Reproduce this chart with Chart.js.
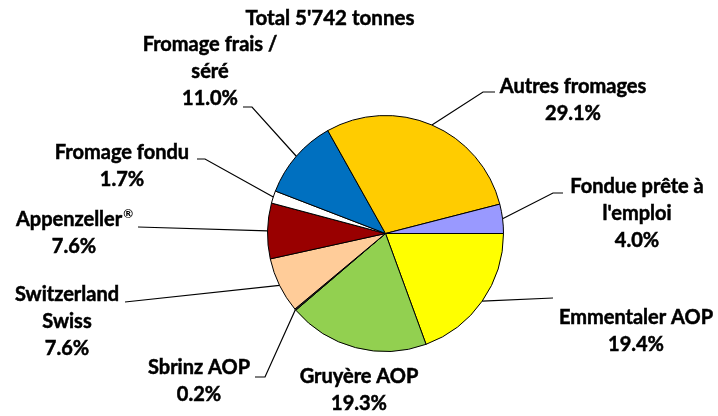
<!DOCTYPE html>
<html>
<head>
<meta charset="utf-8">
<script src="https://cdn.jsdelivr.net/npm/chart.js@4.4.1/dist/chart.umd.min.js"></script>
<style>
  html, body { margin: 0; padding: 0; background: #fff; }
  #wrap { width: 718px; height: 416px; }
</style>
</head>
<body>
<div id="wrap"><canvas id="pieChart" width="718" height="416"></canvas></div>
<script>
// data, clockwise from 3 o'clock
var categories = ["Emmentaler AOP", "Gruyère AOP", "Sbrinz AOP", "Switzerland Swiss", "Appenzeller®",
                  "Fromage fondu", "Fromage frais / séré", "Autres fromages", "Fondue prête à l'emploi"];
var shares = [19.4, 19.3, 0.2, 7.6, 7.6, 1.7, 11.0, 29.1, 4.0];
var sliceColors = ["#FFFF00", "#92D050", "#333333", "#FFCC99", "#990000",
                   "#FFFFFF", "#0070C0", "#FFCC00", "#9999FF"];
var titleText = "Total 5'742 tonnes";

// label text lines (how Excel wrapped them)
var labelLines = [
  ["Emmentaler AOP"], ["Gruyère AOP"], ["Sbrinz AOP"], ["Switzerland", "Swiss"], ["Appenzeller®"],
  ["Fromage fondu"], ["Fromage frais /", "séré"], ["Autres fromages"], ["Fondue prête à", "l'emploi"]
];

// label layout: centre x, first line y, leader start and elbow (null = no leader)
var labelPos = [
  [636, 318], [359, 377], [199, 368], [67, 295], [74, 220],
  [122, 153], [210, 45], [573, 87], [637, 187]
];
var leaderStart = [
  [553, 298], null, [255, 377], [125, 302], [138, 227],
  [197, 159], [243, 107], [495, 92], [563, 193]
];
var leaderElbow = [
  null, null, [265, 377], null, null,
  [205, 159], [252, 107], [483, 92], [553, 193]
];

var FAMILY = "Lato, 'DejaVu Sans', sans-serif";
var SIZE = 20;
var LINE_H = 27;

// draws a centred line, with a small raised ® when present
function drawLine(ctx, text, cx, cy, size) {
  var big = 'bold ' + size + 'px ' + FAMILY;
  var small = 'bold ' + Math.round(size * 0.6) + 'px ' + FAMILY;
  var parts = text.split('®');
  ctx.font = big;
  var w0 = ctx.measureText(parts[0]).width;
  var wr = 0;
  if (parts.length > 1) { ctx.font = small; wr = ctx.measureText('®').width; }
  var x = cx - (w0 + wr) / 2;
  ctx.textAlign = 'left';
  ctx.font = big;
  ctx.fillText(parts[0], x, cy);
  ctx.strokeText(parts[0], x, cy);
  if (parts.length > 1) {
    ctx.font = small;
    ctx.fillText('®', x + w0 + 1, cy - size * 0.3);
  }
}

var labelPlugin = {
  id: 'pieLabels',
  afterDraw: function (chart) {
    var ctx = chart.ctx;
    var arcs = chart.getDatasetMeta(0).data;
    ctx.save();
    ctx.fillStyle = '#000';
    ctx.textBaseline = 'middle';

    ctx.strokeStyle = '#000';
    ctx.lineWidth = 1.2;
    arcs.forEach(function (arc, i) {
      var p = arc.getProps(['x', 'y', 'startAngle', 'endAngle', 'outerRadius'], true);
      var mid = (p.startAngle + p.endAngle) / 2;
      var ex = p.x + Math.cos(mid) * p.outerRadius;
      var ey = p.y + Math.sin(mid) * p.outerRadius;
      if (leaderStart[i]) {
        ctx.beginPath();
        ctx.moveTo(leaderStart[i][0], leaderStart[i][1]);
        if (leaderElbow[i]) ctx.lineTo(leaderElbow[i][0], leaderElbow[i][1]);
        ctx.lineTo(ex, ey);
        ctx.stroke();
      }
    });

    ctx.lineWidth = 0.5;
    drawLine(ctx, titleText, 330, 18, 20.5);
    arcs.forEach(function (arc, i) {
      var lines = labelLines[i].concat([shares[i].toFixed(1) + '%']);
      lines.forEach(function (t, k) {
        drawLine(ctx, t, labelPos[i][0], labelPos[i][1] + k * LINE_H, SIZE);
      });
    });
    ctx.restore();
  }
};

var config = {
  type: 'pie',
  data: {
    labels: categories,
    datasets: [{
      data: shares,
      backgroundColor: sliceColors,
      borderColor: '#000',
      borderWidth: 1
    }]
  },
  options: {
    responsive: false,
    animation: false,
    rotation: 90,
    layout: { padding: { left: 267, right: 214, top: 115, bottom: 64 } },
    plugins: {
      legend: { display: false },
      tooltip: { enabled: false },
      title: { display: false }
    }
  },
  plugins: [labelPlugin]
};

var pieChart = new Chart(document.getElementById('pieChart').getContext('2d'), config);
</script>
</body>
</html>
